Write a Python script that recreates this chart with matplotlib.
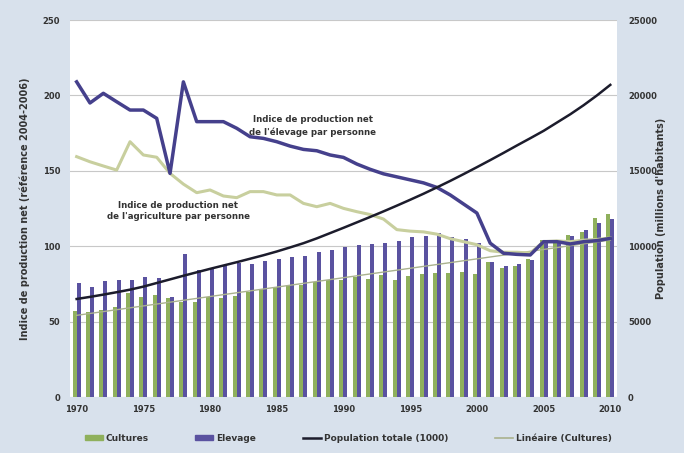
import matplotlib
matplotlib.use("Agg")
import matplotlib.pyplot as plt
import numpy as np
from matplotlib.lines import Line2D
from matplotlib.patches import Patch

years = list(range(1970, 2011))
xtick_labels = ["1970", "1975", "1980", "1985", "1990", "1995", "2000", "2005", "2010"]

cultures = [57, 56.6, 57.7, 59.5, 69, 66.5, 67.6, 65.4, 63.2, 63,
            66, 65.4, 67, 69.8, 71.5, 73, 74.5, 74.5, 76, 77.8,
            77.6, 79.4, 78, 80.9, 77.6, 80.2, 81.6, 82.5, 82.5, 83.1,
            81.6, 89.7, 85.3, 86.9, 91.3, 104, 104, 107.4, 109.6, 118.5,
            121.4]
elevage = [75.8, 73, 77, 77.6, 77.6, 79.4, 78.7, 66, 95, 84,
           85.3, 87.5, 88.6, 88, 90.4, 91.3, 93, 93.5, 96.4, 97.5,
           99.7, 100.6, 101.3, 102.3, 103.7, 106.3, 106.8, 108.5, 106, 104.6,
           102, 89.7, 87, 88, 90.8, 102.5, 104, 106.5, 111, 115.2,
           118]
elevage_pp = [209, 195, 201.4, 195.8, 190.3, 190.3, 184.8, 148.3, 209, 182.6,
              182.6, 182.6, 178.2, 172.6, 171.5, 169.3, 166.4, 164.2, 163.3, 160.5,
              158.9, 154.5, 151, 148, 146, 144, 142, 139, 134, 128,
              122, 102, 95.3, 94.6, 94.2, 103, 103, 101.5, 103, 103.7,
              105.2]
agri_pp = [159.4, 156, 153.2, 150.5, 169.3, 160.5, 159, 148.3, 141.2, 135.5,
           137.3, 133.3, 132.2, 136.2, 136.2, 134, 134, 128.4, 126.2, 128.4,
           125.1, 122.9, 121, 118, 111, 110, 109.5, 108, 105, 103,
           101, 97, 96, 96, 95.5, 103, 103.5, 103, 104, 104.5,
           105.5]
population = [6500, 6640, 6790, 6950, 7120, 7320, 7560, 7800, 8040, 8270,
              8500, 8720, 8940, 9170, 9400, 9650, 9920, 10200, 10520, 10870,
              11220, 11580, 11940, 12310, 12690, 13080, 13480, 13900, 14330, 14780,
              15240, 15710, 16190, 16680, 17160, 17650, 18200, 18750, 19350, 20000,
              20700]

BG = "#d8e1ec"
GREEN = "#8fb05c"
PURPLE = "#5a52a0"
LINE_PURPLE = "#45408c"
AGRI = "#c8cf9e"
POP = "#1c1c2c"
TREND = "#aab28e"
TXT = "#333333"

fig = plt.figure(figsize=(6.84, 4.53), dpi=100, facecolor=BG)
ax = fig.add_axes([0.1023, 0.1236, 0.7997, 0.8322])
ax.set_facecolor("white")
ax2 = ax.twinx()

x = np.arange(len(years))
w = 0.3
ax.bar(x - w / 2, cultures, width=w, color=GREEN, zorder=2)
ax.bar(x + w / 2, elevage, width=w, color=PURPLE, zorder=2)

coef = np.polyfit(x, cultures, 1)
trend = np.polyval(coef, x)
ax.plot(x, trend, color=TREND, lw=1.0, zorder=3)
ax.plot(x, agri_pp, color=AGRI, lw=2.2, zorder=4)
ax.plot(x, elevage_pp, color=LINE_PURPLE, lw=2.5, zorder=5)
ax2.plot(x, population, color=POP, lw=1.8, zorder=6)

ax.set_xlim(-0.5, len(years) - 0.5)
ax.set_ylim(0, 250)
ax2.set_ylim(0, 25000)
ax.set_yticks([0, 50, 100, 150, 200, 250])
ax2.set_yticks([0, 5000, 10000, 15000, 20000, 25000])
ax.set_xticks(np.arange(0, 41, 5))
ax.set_xticklabels(xtick_labels)
ax.grid(axis="y", color="#c8c8c8", lw=0.8, zorder=0)
ax.set_axisbelow(True)

for a in (ax, ax2):
    for s in a.spines.values():
        s.set_visible(False)
    a.tick_params(length=0, labelsize=6, labelcolor=TXT)
ax.tick_params(axis="y", pad=7)
ax2.tick_params(axis="y", pad=8)
ax.tick_params(axis="x", pad=6)
for lab in ax.get_xticklabels() + ax.get_yticklabels() + ax2.get_yticklabels():
    lab.set_fontweight("bold")

ax.set_ylabel("Indice de production net (référence 2004-2006)", fontsize=7,
              fontweight="bold", color=TXT)
ax2.set_ylabel("Population (millions d'habitants)", fontsize=7,
               fontweight="bold", color=TXT)
ax.yaxis.set_label_coords(-0.073, 0.5)
ax2.yaxis.set_label_coords(1.071, 0.5)

ax.text(17.7, 179.7, "Indice de production net\nde l'élevage par personne", fontsize=6.2,
        fontweight="bold", color=TXT, ha="center", va="center", linespacing=1.5)
ax.text(7.6, 123.3, "Indice de production net\nde l'agriculture par personne", fontsize=6.2,
        fontweight="bold", color=TXT, ha="center", va="center", linespacing=1.3)

handles = [Patch(color=GREEN), Patch(color=PURPLE),
           Line2D([], [], color=POP, lw=1.8), Line2D([], [], color=TREND, lw=1.2)]
labels = ["Cultures", "Elevage", "Population totale (1000)", "Linéaire (Cultures)"]
leg = fig.legend(handles, labels, loc="center", bbox_to_anchor=(0.509, 0.033), ncol=4,
                 frameon=False, fontsize=6.5, handlelength=2.0, handleheight=0.6,
                 columnspacing=5.2, handletextpad=0.3)
for t in leg.get_texts():
    t.set_fontweight("bold")
    t.set_color(TXT)

fig.savefig("out.png", dpi=100, facecolor=BG)
